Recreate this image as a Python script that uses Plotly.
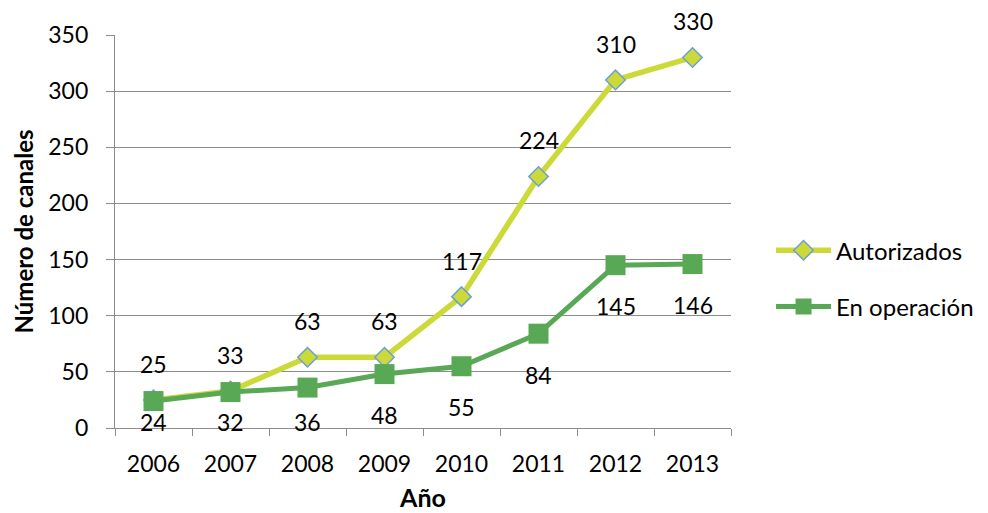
import plotly.graph_objects as go

years = ["2006", "2007", "2008", "2009", "2010", "2011", "2012", "2013"]
autorizados = [25, 33, 63, 63, 117, 224, 310, 330]
en_operacion = [24, 32, 36, 48, 55, 84, 145, 146]
y_ticks = [0, 50, 100, 150, 200, 250, 300, 350]

FONT = "Lato"
YELLOW = "#CBDA38"
BLUE = "#6D9FD6"
GREEN = "#59A856"
GRID = "#8C8C8C"

# page body has an 8px margin, so the figure is slightly smaller than the window
W, H = 980, 505
ML, MR, MT, MB = 107, 257, 27, 85
plot_h = H - MT - MB
px_per_unit = plot_h / 350.0

fig = go.Figure()
fig.add_trace(go.Scatter(
    x=years, y=autorizados, name="Autorizados", mode="lines+markers",
    line=dict(color=YELLOW, width=5.5),
    marker=dict(symbol="diamond", size=15, color=YELLOW, line=dict(color=BLUE, width=1.5)),
    legendgroup="a",
))
fig.add_trace(go.Scatter(
    x=years, y=en_operacion, name="En operación", mode="lines+markers",
    line=dict(color=GREEN, width=5),
    marker=dict(symbol="square", size=20, color=GREEN),
    legendgroup="b",
))

LBL = 23
annotations = []
for i, v in enumerate(autorizados):
    annotations.append(dict(x=i, y=v, xref="x", yref="y", text=str(v), showarrow=False, yshift=36,
                            borderpad=0, font=dict(family=FONT, size=LBL, color="black")))
for i, v in enumerate(en_operacion):
    shift = min(41, v * px_per_unit - 6)
    annotations.append(dict(x=i, y=v, xref="x", yref="y", text=str(v), showarrow=False, yshift=-shift,
                            borderpad=0, font=dict(family=FONT, size=LBL, color="black")))

fig.update_layout(
    width=W, height=H,
    margin=dict(l=ML, r=MR, t=MT, b=MB, autoexpand=False),
    paper_bgcolor="white", plot_bgcolor="white",
    font=dict(family=FONT, size=23, color="black"),
    annotations=annotations,
    showlegend=True,
    legend=dict(x=1.065, xanchor="left", y=0.38, yanchor="middle",
                font=dict(family=FONT, size=24, color="black"),
                itemwidth=55, tracegroupgap=22, bgcolor="rgba(0,0,0,0)"),
    xaxis=dict(
        type="category", range=[-0.5, len(years) - 0.5], autorange=False, automargin=False,
        showgrid=False, showline=True, linecolor=GRID, linewidth=1.2,
        ticks="outside", ticklen=7, tickcolor=GRID, tickwidth=1.2, tickson="boundaries",
        tickfont=dict(family=FONT, size=23, color="black"), tickangle=0, ticklabelstandoff=15,
        title=dict(text="<b>Año</b>", font=dict(family=FONT, size=25, color="black"), standoff=13),
        zeroline=False,
    ),
    yaxis=dict(
        range=[0, 350], autorange=False, automargin=False, tickvals=y_ticks,
        showgrid=True, gridcolor=GRID, gridwidth=1.2,
        showline=True, linecolor=GRID, linewidth=1.2,
        ticks="outside", ticklen=8, tickcolor=GRID, tickwidth=1.2,
        tickfont=dict(family=FONT, size=23, color="black"), ticklabelstandoff=13,
        title=dict(text="<b>Número de canales</b>", font=dict(family=FONT, size=24, color="black"), standoff=7),
        zeroline=False,
    ),
)

fig.write_html("out.html")
